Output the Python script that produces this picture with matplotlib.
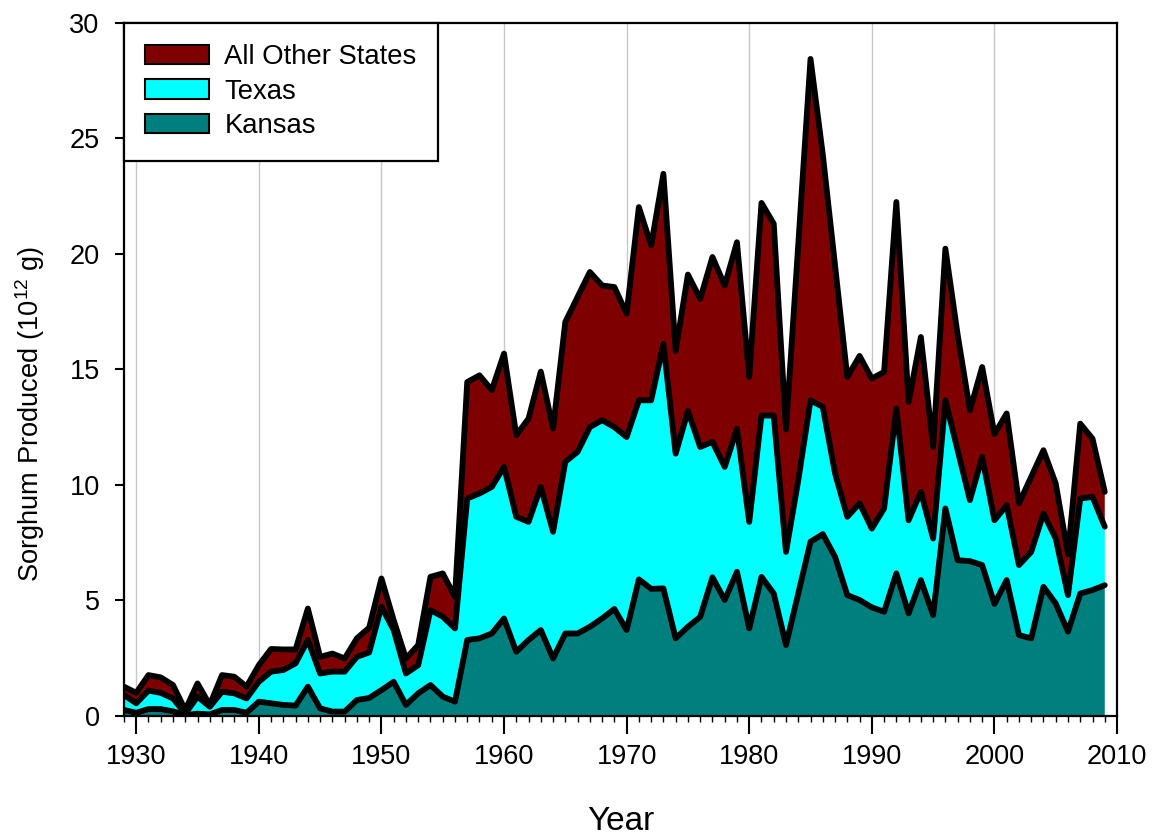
import numpy as np
import matplotlib
matplotlib.use("Agg")
import matplotlib.pyplot as plt
from matplotlib.patches import Patch
from matplotlib.ticker import MultipleLocator

plt.rcParams["font.family"] = ["Liberation Sans", "DejaVu Sans"]
plt.rcParams["mathtext.fontset"] = "custom"
plt.rcParams["mathtext.rm"] = "Liberation Sans"

# Annual sorghum production, 10^12 g
years = list(range(1929, 2010))

kansas = [
    0.26, 0.14, 0.30, 0.30, 0.20, 0.04, 0.10, 0.07, 0.26, 0.26,
    0.14, 0.62, 0.55, 0.48, 0.45, 1.27, 0.33, 0.19, 0.19, 0.69,
    0.78, 1.12, 1.48, 0.48, 0.98, 1.34, 0.84, 0.62, 3.29, 3.36,
    3.57, 4.22, 2.78, 3.29, 3.72, 2.49, 3.57, 3.57, 3.86, 4.22,
    4.63, 3.72, 5.91, 5.50, 5.52, 3.36, 3.86, 4.29, 6.00, 5.02,
    6.24, 3.79, 6.02, 5.30, 3.07, 5.30, 7.54, 7.87, 6.89, 5.23,
    5.02, 4.70, 4.51, 6.17, 4.44, 5.88, 4.37, 8.98, 6.74, 6.70,
    6.53, 4.85, 5.88, 3.50, 3.36, 5.59, 4.87, 3.65, 5.30, 5.45,
    5.66,
]

texas = [
    0.65, 0.41, 0.80, 0.70, 0.56, 0.06, 0.74, 0.33, 0.79, 0.72,
    0.62, 0.86, 1.37, 1.51, 1.83, 2.02, 1.51, 1.73, 1.73, 1.87,
    1.97, 3.61, 2.24, 1.36, 1.22, 3.24, 3.46, 3.17, 6.12, 6.27,
    6.34, 6.56, 5.84, 5.11, 6.19, 5.48, 7.43, 7.86, 8.64, 8.58,
    7.87, 8.35, 7.75, 8.16, 10.58, 7.99, 9.34, 7.35, 5.86, 5.76,
    6.19, 4.61, 6.98, 7.70, 4.03, 4.90, 6.12, 5.50, 3.61, 3.39,
    4.18, 3.41, 4.47, 7.13, 4.03, 3.82, 3.31, 4.68, 4.76, 2.64,
    4.68, 3.62, 3.24, 3.03, 3.74, 3.17, 2.81, 1.58, 4.11, 4.03,
    2.53,
]

other_states = [
    0.36, 0.45, 0.67, 0.67, 0.58, 0.16, 0.57, 0.08, 0.72, 0.72,
    0.51, 0.72, 0.98, 0.89, 0.60, 1.36, 0.72, 0.78, 0.57, 0.80,
    1.07, 1.22, 0.43, 0.65, 0.87, 1.44, 1.87, 1.37, 5.04, 5.11,
    4.19, 4.90, 3.53, 4.47, 4.99, 4.47, 6.05, 6.70, 6.71, 5.83,
    6.06, 5.34, 8.36, 6.70, 7.36, 4.45, 5.90, 6.41, 8.00, 7.85,
    8.07, 6.27, 9.20, 8.30, 5.30, 10.20, 14.77, 10.93, 9.00, 6.05,
    6.38, 6.49, 5.91, 8.94, 5.12, 6.70, 3.96, 6.56, 5.00, 3.89,
    3.89, 3.73, 3.97, 2.67, 3.25, 2.74, 2.38, 1.77, 3.24, 2.52,
    1.51,
]

series_labels = ["Kansas", "Texas", "All Other States"]
series_colors = ["#007f7f", "#00ffff", "#7f0000"]

fig = plt.figure(figsize=(11.53, 8.39), dpi=100)
ax = fig.add_axes([0.1075, 0.1466, 0.8613, 0.8264])

layers = np.vstack([kansas, texas, other_states])
ax.stackplot(years, layers, colors=series_colors, linewidth=0, zorder=2)

# thick black outline along the top of each stacked layer
tops = np.cumsum(layers, axis=0)
for top in tops:
    ax.plot(years, top, color="black", lw=4.2,
            solid_joinstyle="round", solid_capstyle="round", zorder=3)

ax.set_xlim(1929, 2010)
ax.set_ylim(0, 30)
ax.xaxis.set_major_locator(MultipleLocator(10))
ax.xaxis.set_minor_locator(MultipleLocator(1))
ax.yaxis.set_major_locator(MultipleLocator(5))
ax.grid(axis="x", which="major", color="#c8c8c8", lw=1.0, zorder=0)
ax.set_axisbelow(True)

for sp in ax.spines.values():
    sp.set_linewidth(1.6)
    sp.set_zorder(5)
ax.tick_params(axis="x", which="major", direction="out", length=13,
               width=1.5, labelsize=19.5, pad=7)
ax.tick_params(axis="x", which="minor", direction="out", length=4.5, width=1.0)
ax.tick_params(axis="y", which="major", direction="out", length=6.5,
               width=1.5, labelsize=19.5, pad=11)

ax.set_xlabel("Year", fontsize=24)
ax.xaxis.set_label_coords(0.5, -0.13)
ax.set_ylabel(r"Sorghum Produced (10$^{12}$ g)", fontsize=19.6)
ax.yaxis.set_label_coords(-0.077, 0.435)

handles = [Patch(facecolor=c, edgecolor="black", lw=1.5)
           for c in series_colors[::-1]]
leg = ax.legend(handles, series_labels[::-1], loc="upper left",
                bbox_to_anchor=(0, 1), borderaxespad=0, fontsize=19.8,
                frameon=True, fancybox=False, edgecolor="black",
                framealpha=1, handlelength=2.33, handleheight=0.69,
                handletextpad=0.55, labelspacing=0.32, borderpad=0.77)
leg.get_frame().set_linewidth(1.6)
leg.set_zorder(6)

fig.savefig("out.png", dpi=100)
